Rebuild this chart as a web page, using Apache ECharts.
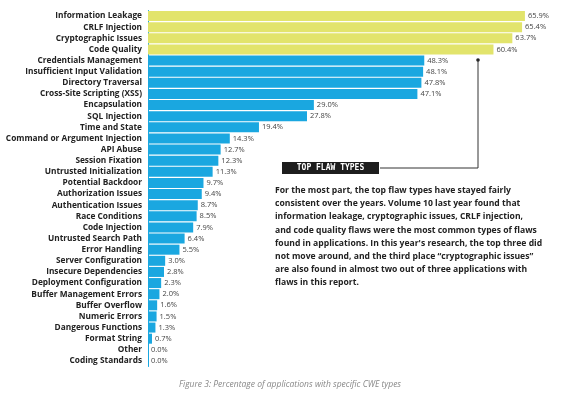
<!DOCTYPE html>
<html>
<head>
<meta charset="utf-8">
<script src="https://cdn.jsdelivr.net/npm/echarts@6/dist/echarts.min.js"></script>
<style>html,body{margin:0;padding:0;background:#fff}#chart{width:565px;height:400px}</style>
</head>
<body>
<div id="chart"></div>
<script>
const categories = ['Information Leakage', 'CRLF Injection', 'Cryptographic Issues', 'Code Quality',
	'Credentials Management', 'Insufficient Input Validation', 'Directory Traversal', 'Cross-Site Scripting (XSS)',
	'Encapsulation', 'SQL Injection', 'Time and State', 'Command or Argument Injection', 'API Abuse',
	'Session Fixation', 'Untrusted Initialization', 'Potential Backdoor', 'Authorization Issues',
	'Authentication Issues', 'Race Conditions', 'Code Injection', 'Untrusted Search Path', 'Error Handling',
	'Server Configuration', 'Insecure Dependencies', 'Deployment Configuration', 'Buffer Management Errors',
	'Buffer Overflow', 'Numeric Errors', 'Dangerous Functions', 'Format String', 'Other', 'Coding Standards'];
const values = [65.9, 65.4, 63.7, 60.4, 48.3, 48.1, 47.8, 47.1, 29.0, 27.8, 19.4, 14.3, 12.7, 12.3, 11.3,
	9.7, 9.4, 8.7, 8.5, 7.9, 6.4, 5.5, 3.0, 2.8, 2.3, 2.0, 1.6, 1.5, 1.3, 0.7, 0.0, 0.0];
const topCount = 4;

const paragraph = [
	'For the most part, the top flaw types have stayed fairly',
	'consistent over the years. Volume 10 last year found that',
	'information leakage, cryptographic issues, CRLF injection,',
	'and code quality flaws were the most common types of flaws',
	'found in applications. In this year\'s research, the top three did',
	'not move around, and the third place “cryptographic issues”',
	'are also found in almost two out of three applications with',
	'flaws in this report.'
].join('\n');

let chart = echarts.init(document.getElementById('chart'));

chart.setOption({
	animation: false,
	grid: { left: 148, top: 10.5, width: 377.5, height: 356 },
	xAxis: { type: 'value', min: 0, max: 66, show: false },
	yAxis: {
		type: 'category',
		data: categories,
		inverse: true,
		axisTick: { show: false },
		axisLine: { show: true, lineStyle: { color: '#1aa7e0', width: 1 } },
		axisLabel: { interval: 0, color: '#222', fontSize: 8.3, fontWeight: 'bold', fontFamily: 'Open Sans', margin: 6 }
	},
	series: [{
		type: 'bar',
		barCategoryGap: '10%',
		data: values.map(function (v, i) {
			return { value: v, itemStyle: { color: i < topCount ? '#e2e46c' : '#1aa7e0' } };
		}),
		label: {
			show: true,
			position: 'right',
			distance: 3,
			fontSize: 7.5,
			color: '#444',
			fontFamily: 'Open Sans',
			formatter: function (p) { return p.value.toFixed(1) + '%'; }
		}
	}],
	graphic: [
		{ type: 'circle', shape: { cx: 478, cy: 60, r: 1.8 }, style: { fill: '#222' } },
		{ type: 'polyline', shape: { points: [[478, 60], [478, 168], [380, 168]] }, style: { stroke: '#333', lineWidth: 1, fill: null } },
		{ type: 'rect', shape: { x: 282, y: 162, width: 97, height: 12 }, style: { fill: '#1d1d1d' } },
		{ type: 'text', x: 330.5, y: 168, style: { text: 'TOP FLAW TYPES', fill: '#fff', font: 'bold 8px "DejaVu Sans Mono"', align: 'center', verticalAlign: 'middle' } },
		{ type: 'text', x: 275, y: 184, style: { text: paragraph, fill: '#222', font: 'bold 8.6px "Open Sans"', lineHeight: 13.2 } },
		{ type: 'text', x: 290, y: 385, style: { text: 'Figure 3: Percentage of applications with specific CWE types', fill: '#888', font: 'italic 8.5px "Open Sans"', align: 'center', verticalAlign: 'middle' } }
	]
});
</script>
</body>
</html>
